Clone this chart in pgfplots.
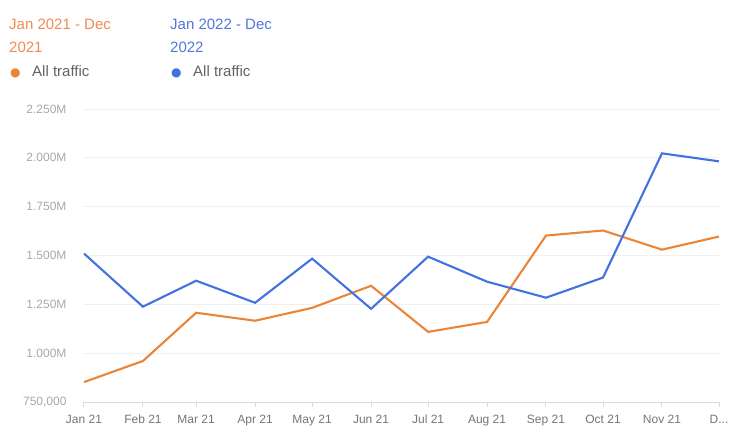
\documentclass[border=0pt]{standalone}
\usepackage{fontspec}
\setmainfont{Liberation Sans}
\newfontfamily\symfont{DejaVu Sans}
\usepackage{pgfplots}
\pgfplotsset{compat=1.18}
\definecolor{orangeL}{RGB}{234,133,56}
\definecolor{blueL}{RGB}{66,113,225}
\definecolor{orangeT}{RGB}{236,140,80}
\definecolor{blueT}{RGB}{80,120,215}
\definecolor{tickgray}{RGB}{168,168,168}
\definecolor{xgray}{RGB}{117,117,117}
\definecolor{leggray}{RGB}{95,99,104}
\definecolor{gridc}{RGB}{240,240,240}
\definecolor{axisc}{RGB}{214,218,226}
\begin{document}
\begin{tikzpicture}[x=1pt,y=1pt]
\useasboundingbox (0,0) rectangle (731,-441);
\begin{axis}[at={(84pt,-402pt)}, anchor=south west, scale only axis,
  width=635pt, height=293pt,
  xmin=0, xmax=334, ymin=0.75, ymax=2.25,
  xtick={0,31,59,90,120,151,181,212,243,273,304,334},
  xticklabels={Jan 21,Feb 21,Mar 21,Apr 21,May 21,Jun 21,Jul 21,Aug 21,Sep 21,Oct 21,Nov 21,{D{.}{.}{.}}},
  ytick={0.75,1.0,1.25,1.5,1.75,2.0,2.25},
  yticklabels={{750,000},{1.000M},{1.250M},{1.500M},{1.750M},{2.000M},{2.250M}},
  axis x line*=bottom, axis y line*=left,
  y axis line style={draw=none},
  x axis line style={axisc, line width=1pt},
  xtick style={axisc, line width=1pt},
  ytick style={draw=none},
  tick align=outside, major tick length=5pt,
  ymajorgrids, grid style={gridc, line width=0.8pt},
  xticklabel style={font=\fontsize{12}{14}\selectfont, text=xgray, text height=9pt, text depth=2.5pt, yshift=-4pt},
  yticklabel style={font=\fontsize{12}{14}\selectfont, text=tickgray, xshift=-9pt},
  clip=false,
]
\addplot[orangeL, line width=2.1pt] coordinates {
 (0,0.852) (31,0.960) (59,1.207) (90,1.166) (120,1.232) (151,1.345)
 (181,1.109) (212,1.160) (243,1.602) (273,1.628) (304,1.530) (334,1.597)};
\addplot[blueL, line width=2.1pt] coordinates {
 (0,1.510) (31,1.238) (59,1.371) (90,1.258) (120,1.484) (151,1.227)
 (181,1.494) (212,1.366) (243,1.284) (273,1.387) (304,2.023) (334,1.982)};
\end{axis}
\begin{scope}[font=\fontsize{15}{18}\selectfont]
\node[anchor=base west, text=orangeT, inner sep=0] at (9,-30) {Jan 2021 - Dec};
\node[anchor=base west, text=orangeT, inner sep=0] at (9,-53) {2021};
\node[anchor=base west, text=orangeL, inner sep=0] at (10,-77) {{\symfont\fontsize{12}{12}\selectfont ●}};
\node[anchor=base west, text=leggray, inner sep=0] at (32,-77) {All traffic};
\node[anchor=base west, text=blueT, inner sep=0] at (170,-30) {Jan 2022 - Dec};
\node[anchor=base west, text=blueT, inner sep=0] at (170,-53) {2022};
\node[anchor=base west, text=blueL, inner sep=0] at (171,-77) {{\symfont\fontsize{12}{12}\selectfont ●}};
\node[anchor=base west, text=leggray, inner sep=0] at (193,-77) {All traffic};
\end{scope}
\end{tikzpicture}
\end{document}
